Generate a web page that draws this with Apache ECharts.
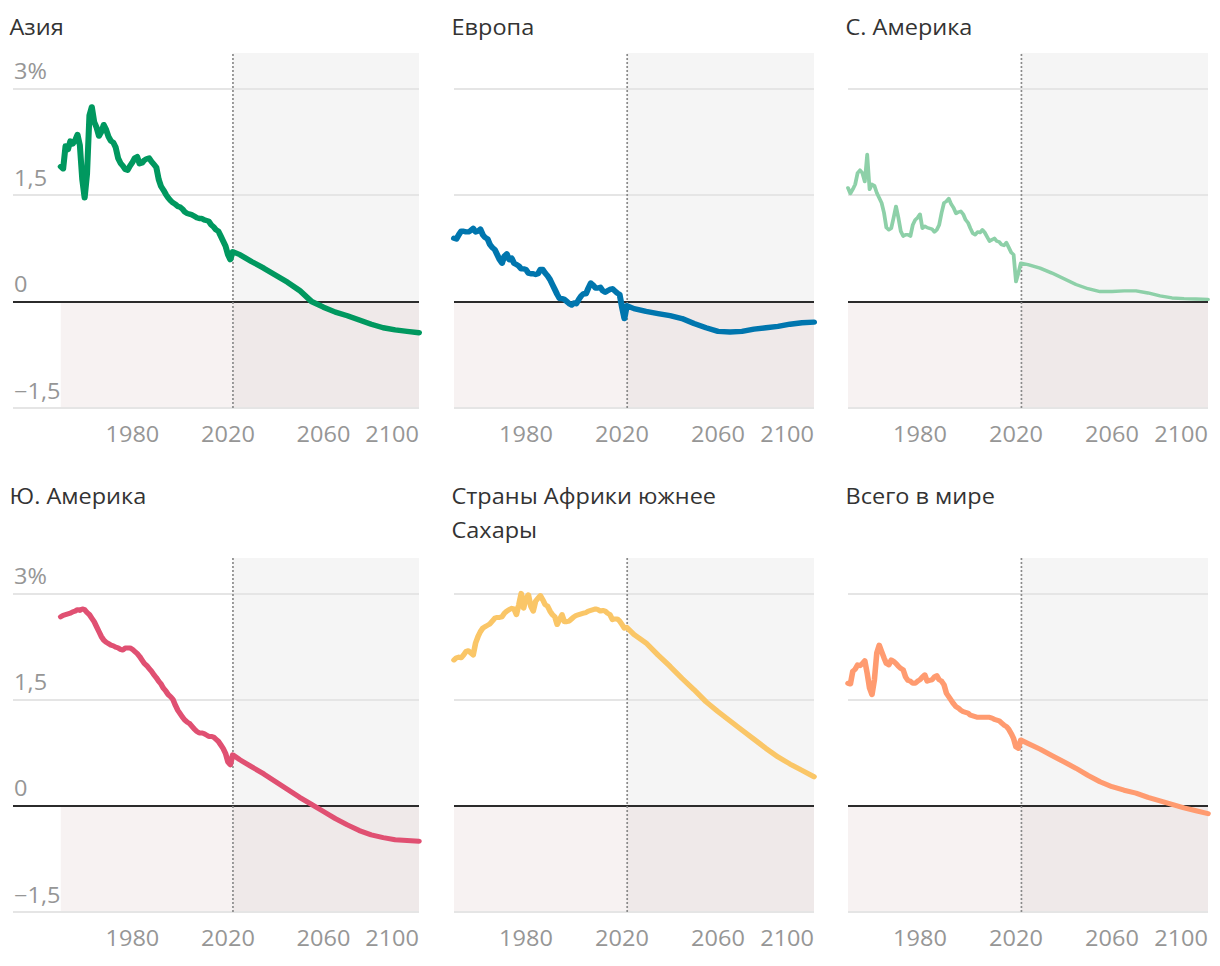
<!DOCTYPE html>
<html>
<head>
<meta charset="utf-8">
<script src="https://cdn.jsdelivr.net/npm/echarts@6/dist/echarts.min.js"></script>
<style>
html,body{margin:0;padding:0;background:#ffffff;overflow:hidden;}
#wrap{width:1220px;height:966px;overflow:hidden;}
#chart{height:966px;transform-origin:0 0;}
</style>
</head>
<body>
<div id="wrap"><div id="chart"></div></div>
<script>
// ---------------- DATA ----------------
const regionNames = ['Азия', 'Европа', 'С. Америка', 'Ю. Америка', 'Страны Африки южнее\nСахары', 'Всего в мире'];
const histStartYear = 1950;           // historical values are annual, 1950..2021
const projectionStartYear = 2022;
const projYears = [2022, 2025, 2030, 2035, 2040, 2045, 2050, 2055, 2060, 2065, 2070, 2075, 2080, 2085, 2090, 2095, 2100];
const xTickLabels = [1980, 2020, 2060, 2100];
const yTickValues = [-1.5, 0, 1.5, 3];
const yTickLabels = ['−1,5', '0', '1,5', '3%'];

const asiaHist = [
  1.90, 1.87, 2.19, 2.14, 2.26, 2.22, 2.27, 2.35, 2.20, 1.72,
  1.46, 1.80, 2.62, 2.74, 2.53, 2.45, 2.33, 2.39, 2.49, 2.42,
  2.32, 2.26, 2.24, 2.17, 2.02, 1.95, 1.91, 1.86, 1.85, 1.91,
  1.96, 2.02, 2.04, 1.94, 1.95, 1.99, 2.01, 2.02, 1.97, 1.93,
  1.89, 1.72, 1.62, 1.57, 1.51, 1.46, 1.42, 1.39, 1.37, 1.34,
  1.33, 1.30, 1.26, 1.24, 1.23, 1.22, 1.20, 1.18, 1.17, 1.17,
  1.15, 1.14, 1.13, 1.08, 1.05, 1.01, 0.99, 0.92, 0.85, 0.78,
  0.66, 0.59
];
const asiaProj = [0.70, 0.66, 0.56, 0.47, 0.37, 0.27, 0.155, 0.0, -0.08, -0.15, -0.20, -0.26, -0.32, -0.37, -0.40, -0.42, -0.44];

const europeHist = [
  0.89, 0.88, 0.94, 0.99, 0.99, 0.98, 0.98, 1.00, 1.03, 0.98,
  0.99, 1.02, 0.94, 0.90, 0.88, 0.80, 0.76, 0.73, 0.66, 0.59,
  0.54, 0.64, 0.67, 0.59, 0.61, 0.54, 0.52, 0.50, 0.46, 0.46,
  0.45, 0.40, 0.39, 0.39, 0.38, 0.39, 0.45, 0.45, 0.40, 0.36,
  0.31, 0.24, 0.17, 0.10, 0.04, 0.04, 0.03, 0.00, -0.03, -0.05,
  -0.02, -0.03, 0.03, 0.08, 0.11, 0.11, 0.19, 0.26, 0.23, 0.19,
  0.19, 0.20, 0.15, 0.13, 0.15, 0.17, 0.18, 0.15, 0.12, 0.10,
  -0.08, -0.24
];
const europeProj = [-0.06, -0.10, -0.14, -0.17, -0.20, -0.24, -0.31, -0.37, -0.42, -0.43, -0.42, -0.39, -0.37, -0.35, -0.32, -0.30, -0.29];

const northAmericaHist = [
  1.60, 1.52, 1.58, 1.65, 1.81, 1.85, 1.81, 1.69, 2.07, 1.58,
  1.65, 1.63, 1.53, 1.46, 1.39, 1.25, 1.04, 1.01, 1.03, 1.18,
  1.34, 1.18, 0.99, 0.92, 0.94, 0.94, 0.92, 1.08, 1.15, 1.18,
  1.23, 1.03, 1.06, 1.04, 1.03, 1.02, 0.98, 1.01, 1.08, 1.25,
  1.39, 1.41, 1.45, 1.37, 1.32, 1.24, 1.26, 1.27, 1.23, 1.15,
  1.11, 1.03, 0.96, 0.94, 0.98, 0.97, 1.01, 0.97, 0.91, 0.85,
  0.87, 0.89, 0.85, 0.84, 0.80, 0.79, 0.83, 0.76, 0.69, 0.66,
  0.28, 0.40
];
const northAmericaProj = [0.54, 0.52, 0.47, 0.40, 0.32, 0.24, 0.18, 0.14, 0.14, 0.15, 0.15, 0.12, 0.08, 0.05, 0.04, 0.035, 0.03];

const southAmericaHist = [
  2.67, 2.69, 2.70, 2.71, 2.72, 2.74, 2.75, 2.77, 2.76, 2.78,
  2.77, 2.73, 2.70, 2.65, 2.60, 2.53, 2.46, 2.39, 2.34, 2.31,
  2.29, 2.27, 2.26, 2.24, 2.23, 2.21, 2.20, 2.23, 2.23, 2.23,
  2.21, 2.18, 2.15, 2.11, 2.06, 2.01, 1.98, 1.94, 1.90, 1.85,
  1.81, 1.76, 1.72, 1.66, 1.62, 1.57, 1.54, 1.50, 1.42, 1.35,
  1.30, 1.25, 1.21, 1.18, 1.16, 1.12, 1.08, 1.05, 1.03, 1.03,
  1.02, 1.00, 0.98, 0.98, 0.97, 0.94, 0.91, 0.86, 0.81, 0.74,
  0.62, 0.58
];
const southAmericaProj = [0.72, 0.65, 0.55, 0.45, 0.34, 0.23, 0.12, 0.02, -0.08, -0.18, -0.27, -0.35, -0.41, -0.45, -0.48, -0.49, -0.50];

const africaHist = [
  2.06, 2.09, 2.10, 2.09, 2.13, 2.18, 2.19, 2.16, 2.13, 2.30,
  2.39, 2.46, 2.51, 2.53, 2.55, 2.57, 2.61, 2.65, 2.66, 2.66,
  2.67, 2.72, 2.75, 2.77, 2.79, 2.78, 2.70, 2.84, 3.00, 2.79,
  2.93, 2.98, 2.82, 2.75, 2.89, 2.93, 2.97, 2.91, 2.84, 2.82,
  2.75, 2.70, 2.67, 2.56, 2.63, 2.70, 2.60, 2.60, 2.61, 2.64,
  2.67, 2.69, 2.70, 2.71, 2.72, 2.73, 2.75, 2.76, 2.77, 2.78,
  2.77, 2.75, 2.76, 2.75, 2.72, 2.70, 2.63, 2.64, 2.64, 2.61,
  2.56, 2.51
];
const africaProj = [2.52, 2.42, 2.30, 2.13, 1.97, 1.80, 1.64, 1.47, 1.33, 1.20, 1.07, 0.94, 0.81, 0.69, 0.59, 0.50, 0.41];

const worldHist = [
  1.73, 1.72, 1.90, 1.93, 1.99, 1.98, 2.01, 2.05, 1.87, 1.66,
  1.57, 1.78, 2.16, 2.27, 2.18, 2.09, 2.01, 1.99, 2.06, 2.04,
  2.01, 1.97, 1.94, 1.92, 1.82, 1.77, 1.76, 1.73, 1.73, 1.76,
  1.78, 1.82, 1.85, 1.76, 1.77, 1.78, 1.82, 1.84, 1.78, 1.76,
  1.71, 1.59, 1.54, 1.49, 1.44, 1.40, 1.38, 1.35, 1.33, 1.32,
  1.31, 1.28, 1.27, 1.26, 1.25, 1.25, 1.25, 1.25, 1.25, 1.25,
  1.24, 1.22, 1.21, 1.20, 1.17, 1.14, 1.12, 1.08, 1.02, 0.95,
  0.83, 0.81
];
const worldProj = [0.93, 0.88, 0.80, 0.71, 0.62, 0.53, 0.43, 0.34, 0.27, 0.22, 0.18, 0.12, 0.07, 0.02, -0.03, -0.07, -0.11];

const histSeries = [asiaHist, europeHist, northAmericaHist, southAmericaHist, africaHist, worldHist];
const projSeries = [asiaProj, europeProj, northAmericaProj, southAmericaProj, africaProj, worldProj];

// ---------------- STYLE / LAYOUT ----------------
// The reference typography is horizontally stretched; the chart is laid out in
// a narrower coordinate space and stretched by STRETCH with CSS.
const STRETCH = 1.12;
const PAGE_W = 1220, PAGE_H = 966;
const sx = v => v / STRETCH;

const lineColors = ['#00985f', '#0076ae', '#8dd0a8', '#e05072', '#fac667', '#ff9b70'];
const lineWidths = [5.4, 5.4, 3.4, 5, 5, 5];
const colLeftPx = [13, 454, 848];
const colRightPx = [419, 814, 1208];
const colXMin = [1930, 1950, 1950];
const rowTop = [53, 558];
const rowHeight = [355, 354];
const titleLeftPx = [9.5, 451.5, 845.5];
const titleTop = [10, 479];
const Y_MIN = -1.5, Y_MAX = 3.5, X_MAX = 2100;
const FONT = '"Open Sans", "Noto Sans", sans-serif';
const FS = 21;

const grids = [], xAxes = [], yAxes = [], series = [], titles = [];

for (let i = 0; i < 6; i++) {
  const r = Math.floor(i / 3), c = i % 3;
  grids.push({
    left: sx(colLeftPx[c]), top: rowTop[r],
    width: sx(colRightPx[c] - colLeftPx[c]), height: rowHeight[r], containLabel: false
  });
  titles.push({
    text: regionNames[i], left: sx(titleLeftPx[c]), top: titleTop[r], padding: 0,
    textStyle: { fontFamily: FONT, fontSize: FS, fontWeight: 'normal', color: '#333333', lineHeight: 34 }
  });
  xAxes.push({
    type: 'value', gridIndex: i, min: colXMin[c], max: X_MAX, interval: 10,
    axisLine: { show: false }, axisTick: { show: false }, splitLine: { show: false },
    axisLabel: {
      fontFamily: FONT, fontSize: FS, color: '#969696', margin: 15,
      alignMaxLabel: 'right',
      formatter: v => xTickLabels.indexOf(v) >= 0 ? String(v) : ''
    }
  });
  yAxes.push({
    type: 'value', gridIndex: i, min: Y_MIN, max: Y_MAX, interval: 1.5,
    axisLine: { show: false }, axisTick: { show: false }, splitLine: { show: false },
    axisLabel: {
      show: c === 0, inside: true, margin: 1, showMaxLabel: false,
      verticalAlign: 'bottom', padding: [0, 0, 7, 0],
      fontFamily: FONT, fontSize: FS, color: '#969696',
      formatter: v => { const k = yTickValues.indexOf(Math.round(v * 10) / 10); return k >= 0 ? yTickLabels[k] : ''; }
    }
  });
  // backgrounds
  series.push({
    type: 'line', xAxisIndex: i, yAxisIndex: i, data: [], z: 1, silent: true,
    markArea: {
      silent: true,
      data: [
        [{ coord: [projectionStartYear, 0], itemStyle: { color: '#f5f5f5' } }, { coord: [X_MAX, Y_MAX] }],
        [{ coord: [histStartYear, Y_MIN], itemStyle: { color: '#f7f2f2' } }, { coord: [projectionStartYear, 0] }],
        [{ coord: [projectionStartYear, Y_MIN], itemStyle: { color: '#efe9e9' } }, { coord: [X_MAX, 0] }]
      ]
    }
  });
  // grid lines, zero line, projection divider
  series.push({
    type: 'line', xAxisIndex: i, yAxisIndex: i, data: [], z: 2, silent: true,
    markLine: {
      silent: true, symbol: ['none', 'none'], label: { show: false }, animation: false,
      data: [
        { yAxis: 3, lineStyle: { color: '#e5e5e5', width: 2, type: 'solid' } },
        { yAxis: 1.5, lineStyle: { color: '#e5e5e5', width: 2, type: 'solid' } },
        { yAxis: -1.5, lineStyle: { color: '#e5e5e5', width: 2, type: 'solid' } },
        { yAxis: 0, lineStyle: { color: '#2b2b2b', width: 2, type: 'solid' } },
        { xAxis: projectionStartYear, lineStyle: { color: '#8a8a8a', width: 1.5, type: [2, 2] } }
      ]
    }
  });
  const pts = histSeries[i].map((v, k) => [histStartYear + k, v])
    .concat(projYears.map((y, k) => [y, projSeries[i][k]]));
  series.push({
    type: 'line', xAxisIndex: i, yAxisIndex: i, data: pts, z: 5, silent: true,
    symbol: 'none', showSymbol: false,
    lineStyle: { color: lineColors[i], width: lineWidths[i], cap: 'round', join: 'round' }
  });
}

const el = document.getElementById('chart');
el.style.width = sx(PAGE_W) + 'px';
el.style.transform = 'scaleX(' + STRETCH + ')';
const chart = echarts.init(el, null, { renderer: 'svg', width: sx(PAGE_W), height: PAGE_H });
chart.setOption({
  animation: false,
  backgroundColor: '#ffffff',
  title: titles,
  grid: grids,
  xAxis: xAxes,
  yAxis: yAxes,
  series: series
});
</script>
</body>
</html>
